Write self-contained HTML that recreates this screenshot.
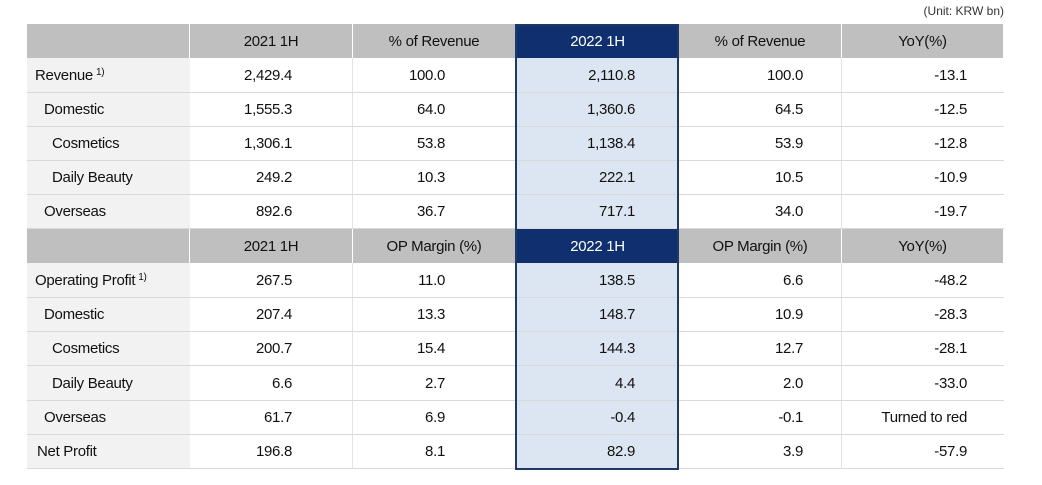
<!DOCTYPE html>
<html><head><meta charset="utf-8"><style>
body{margin:0;width:1042px;height:485px;background:#fff;position:relative;font-family:"Liberation Sans Narrow","Liberation Sans",sans-serif;font-size:15px;letter-spacing:-0.3px;color:#111;overflow:hidden}
.c{position:absolute;box-sizing:border-box;display:flex;align-items:center;white-space:nowrap}
.h{background:#bfbfbf;justify-content:center;border-right:1px solid #fff}
.hb{background:#0f2f6e;color:#fff;justify-content:center}
.l{background:#f2f2f2;border-bottom:1px solid #d9d9d9}
.n{justify-content:flex-end;border-bottom:1px solid #d9d9d9;border-right:1px solid #e3e3e3}
.b{background:#dce6f2}
sup{font-size:10px;position:relative;top:-3px;margin-left:3px}
</style></head><body>
<div class="c" style="left:900px;top:3px;height:16px;font-size:12px;color:#333;width:104px;justify-content:flex-end;letter-spacing:0">(Unit: KRW bn)</div>
<div id="t"></div>
<script>
var rows=[24,58,93,127,161,195,229,263,298,332,366,401,435,469];
var cx=[27,190,353,516,679,842,1004];
var rpad=[0,60,70,43,38,37];
var data=[
['H','2021 1H','% of Revenue','2022 1H','% of Revenue','YoY(%)'],
['Revenue<sup>1)</sup>',8,'2,429.4','100.0','2,110.8','100.0','-13.1'],
['Domestic',17,'1,555.3','64.0','1,360.6','64.5','-12.5'],
['Cosmetics',25,'1,306.1','53.8','1,138.4','53.9','-12.8'],
['Daily Beauty',25,'249.2','10.3','222.1','10.5','-10.9'],
['Overseas',17,'892.6','36.7','717.1','34.0','-19.7'],
['H','2021 1H','OP Margin (%)','2022 1H','OP Margin (%)','YoY(%)'],
['Operating Profit<sup>1)</sup>',8,'267.5','11.0','138.5','6.6','-48.2'],
['Domestic',17,'207.4','13.3','148.7','10.9','-28.3'],
['Cosmetics',25,'200.7','15.4','144.3','12.7','-28.1'],
['Daily Beauty',25,'6.6','2.7','4.4','2.0','-33.0'],
['Overseas',17,'61.7','6.9','-0.4','-0.1','Turned to red'],
['Net Profit',10,'196.8','8.1','82.9','3.9','-57.9']];
var h='';
data.forEach(function(r,i){
 var top=rows[i],ht=rows[i+1]-rows[i];
 if(r[0]=='H'){
  h+='<div class="c h" style="left:27px;top:'+top+'px;width:163px;height:'+ht+'px"></div>';
  for(var j=1;j<=5;j++){
   var cls=j==3?'hb':'h';
   h+='<div class="c '+cls+'" style="left:'+cx[j]+'px;top:'+top+'px;width:'+(cx[j+1]-cx[j])+'px;height:'+ht+'px">'+r[j]+'</div>';
  }
 } else {
  h+='<div class="c l" style="left:27px;top:'+top+'px;width:163px;height:'+ht+'px;padding-left:'+r[1]+'px">'+r[0]+'</div>';
  for(var j=1;j<=5;j++){
   var cls=j==3?'n b':'n';
   var extra=j==5?'border-right:none;':'';
   h+='<div class="c '+cls+'" style="'+extra+'left:'+cx[j]+'px;top:'+top+'px;width:'+(cx[j+1]-cx[j])+'px;height:'+ht+'px;padding-right:'+rpad[j]+'px">'+r[j+1]+'</div>';
  }
 }
});
h+='<div style="position:absolute;left:515px;top:24px;width:164px;height:446px;box-sizing:border-box;border:2px solid #1f3864"></div>';
document.getElementById('t').innerHTML=h;
</script>
</body></html>
